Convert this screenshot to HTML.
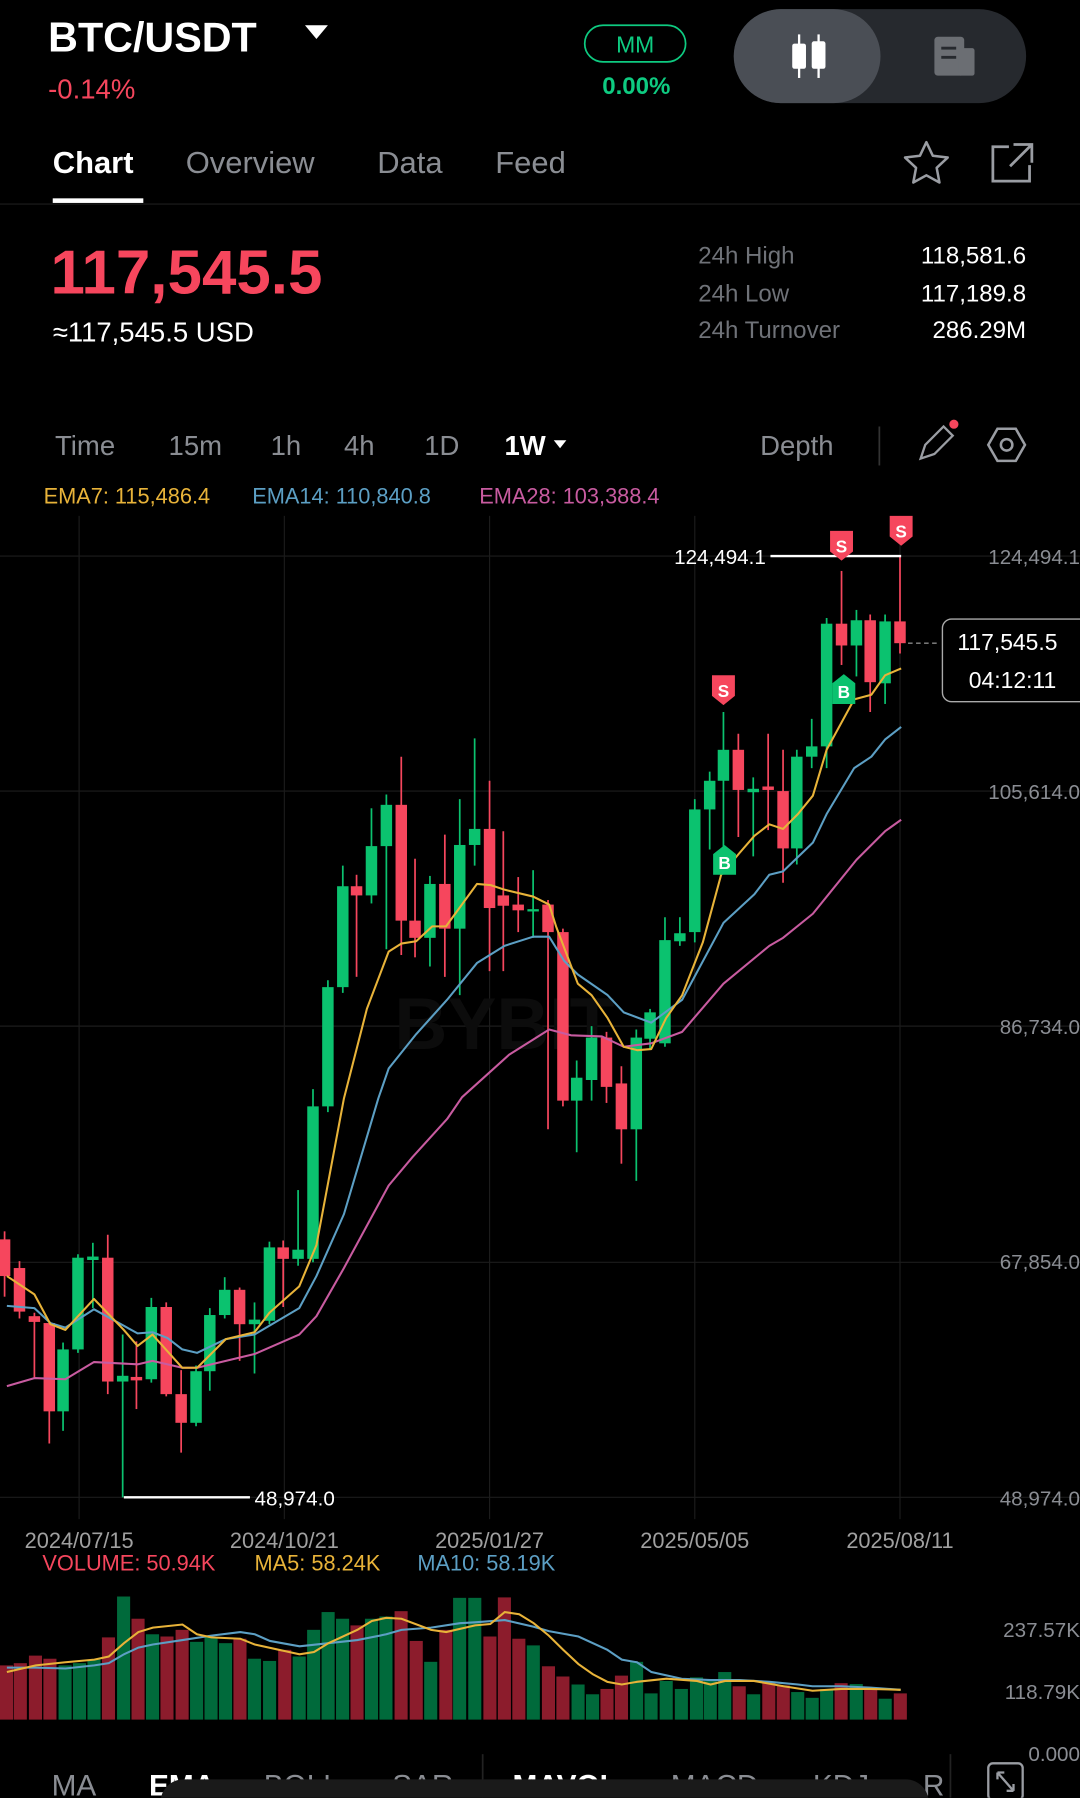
<!DOCTYPE html>
<html><head><meta charset="utf-8"><style>
html,body{margin:0;padding:0;background:#000;overflow:hidden;}
#w{width:942px;height:1568px;transform:scale(1.146497);transform-origin:0 0;position:relative;}
svg{display:block}
text{font-family:"Liberation Sans",sans-serif;}
</style></head><body><div id="w">
<svg width="942" height="1568" viewBox="0 0 942 1568" xmlns="http://www.w3.org/2000/svg">
<rect width="942" height="1568" fill="#000"/>
<!-- header -->
<text x="42" y="45" font-size="36" font-weight="bold" fill="#fff">BTC/USDT</text>
<path d="M266 22 h20 l-10 12z" fill="#fff"/>
<text x="42" y="86" font-size="24" fill="#f6465d">-0.14%</text>
<rect x="510" y="22" width="88" height="32" rx="16" fill="none" stroke="#0ecb81" stroke-width="1.5"/>
<text x="554" y="46" font-size="20" fill="#0ecb81" text-anchor="middle">MM</text>
<text x="555" y="82" font-size="21" font-weight="bold" fill="#0ecb81" text-anchor="middle">0.00%</text>
<rect x="640" y="8" width="255" height="82" rx="41" fill="#26292e"/>
<rect x="640" y="8" width="128" height="82" rx="41" fill="#4a4e55"/>
<g fill="#fff" stroke="#fff" stroke-width="2"><line x1="697" y1="30" x2="697" y2="68"/><line x1="714" y1="30" x2="714" y2="68"/></g>
<rect x="691" y="38" width="12" height="22" rx="2" fill="#fff"/><rect x="708" y="36" width="12" height="24" rx="2" fill="#fff"/>
<rect x="815" y="32" width="26" height="34" rx="3" fill="#6b6e73"/><rect x="836" y="42" width="14" height="24" rx="2" fill="#6b6e73"/>
<g stroke="#26292e" stroke-width="2.5"><line x1="821" y1="42" x2="834" y2="42"/><line x1="821" y1="50" x2="834" y2="50"/></g>
<!-- tabs -->
<text x="46" y="151" font-size="27" font-weight="bold" fill="#fff">Chart</text>
<rect x="46" y="173" width="79" height="4" fill="#fff"/>
<text x="162" y="151" font-size="27" fill="#8a8d93">Overview</text>
<text x="329" y="151" font-size="27" fill="#8a8d93">Data</text>
<text x="432" y="151" font-size="27" fill="#8a8d93">Feed</text>
<path d="M808 124 l5.6 11.8 13 1.6 -9.6 9 2.4 12.8 -11.4 -6.3 -11.4 6.3 2.4 -12.8 -9.6 -9 13 -1.6z" fill="none" stroke="#9a9da3" stroke-width="2.2" stroke-linejoin="round"/>
<path d="M880 128 h-14 v30 h32 v-14 M884 126 h16 v16 M899 127 l-18 18" fill="none" stroke="#9a9da3" stroke-width="2.4"/>
<line x1="0" y1="178" x2="942" y2="178" stroke="#1e1e1e" stroke-width="1"/>
<!-- price -->
<text x="44" y="256" font-size="54" font-weight="bold" fill="#f6465d">117,545.5</text>
<text x="46" y="298" font-size="24" fill="#fff">≈117,545.5 USD</text>
<g font-size="21" fill="#6f7278"><text x="609" y="230">24h High</text><text x="609" y="263">24h Low</text><text x="609" y="295">24h Turnover</text></g>
<g font-size="21" fill="#fff" text-anchor="end"><text x="895" y="230">118,581.6</text><text x="895" y="263">117,189.8</text><text x="895" y="295">286.29M</text></g>
<!-- intervals -->
<g font-size="24" fill="#8a8d93"><text x="48" y="397">Time</text><text x="147" y="397">15m</text><text x="236" y="397">1h</text><text x="300" y="397">4h</text><text x="370" y="397">1D</text><text x="663" y="397">Depth</text></g>
<text x="440" y="397" font-size="24" font-weight="bold" fill="#fff">1W</text>
<path d="M483 384 h11 l-5.5 7z" fill="#fff"/>
<line x1="767" y1="372" x2="767" y2="406" stroke="#333" stroke-width="1.5"/>
<path d="M803 400 l4 -12 16 -16 8 8 -16 16z" fill="none" stroke="#9a9da3" stroke-width="2"/>
<circle cx="832" cy="370" r="4" fill="#f6465d"/>
<path d="M870 374 h16 l8 14 -8 14 h-16 l-8 -14z" fill="none" stroke="#9a9da3" stroke-width="2.2"/>
<circle cx="878" cy="388" r="5" fill="none" stroke="#9a9da3" stroke-width="2.2"/>
<!-- ema legend -->
<g font-size="19"><text x="38" y="439" fill="#e8b339">EMA7: 115,486.4</text><text x="220" y="439" fill="#5c9fc4">EMA14: 110,840.8</text><text x="418" y="439" fill="#c85ba0">EMA28: 103,388.4</text></g>
<!-- grid -->
<g stroke="#1c1c1c" stroke-width="1">
<line x1="0" y1="485" x2="942" y2="485"/><line x1="0" y1="690" x2="942" y2="690"/><line x1="0" y1="895" x2="942" y2="895"/><line x1="0" y1="1101" x2="942" y2="1101"/><line x1="0" y1="1306" x2="942" y2="1306"/>
<line x1="69" y1="450" x2="69" y2="1325"/><line x1="248" y1="450" x2="248" y2="1325"/><line x1="427" y1="450" x2="427" y2="1325"/><line x1="606" y1="450" x2="606" y2="1325"/><line x1="785" y1="450" x2="785" y2="1325"/>
</g>
<text x="440" y="915" font-size="64" font-weight="bold" fill="#0c0c0c" text-anchor="middle">BYBIT</text>
<g font-size="18" fill="#8a8d93" text-anchor="end"><text x="942" y="492">124,494.1</text><text x="942" y="697">105,614.0</text><text x="942" y="902">86,734.0</text><text x="942" y="1107">67,854.0</text><text x="942" y="1313">48,974.0</text></g>
<g font-size="19" fill="#a0a0a0" text-anchor="middle"><text x="69" y="1350">2024/07/15</text><text x="248" y="1350">2024/10/21</text><text x="427" y="1350">2025/01/27</text><text x="606" y="1350">2025/05/05</text><text x="785" y="1350">2025/08/11</text></g>
<!-- candles -->
<g stroke="#f6465d" stroke-width="1.5">
<line x1="4" y1="1074" x2="4" y2="1131"/><line x1="17" y1="1100" x2="17" y2="1150"/><line x1="30" y1="1145" x2="30" y2="1202"/><line x1="43" y1="1154" x2="43" y2="1259"/><line x1="94" y1="1077" x2="94" y2="1216"/><line x1="119" y1="1170" x2="119" y2="1229"/><line x1="145" y1="1136" x2="145" y2="1218"/><line x1="158" y1="1195" x2="158" y2="1267"/><line x1="209" y1="1123" x2="209" y2="1187"/><line x1="247" y1="1082" x2="247" y2="1140"/><line x1="311" y1="763" x2="311" y2="852"/><line x1="350" y1="660" x2="350" y2="833"/><line x1="362" y1="749" x2="362" y2="835"/><line x1="388" y1="728" x2="388" y2="852"/><line x1="427" y1="681" x2="427" y2="847"/><line x1="439" y1="725" x2="439" y2="847"/><line x1="452" y1="765" x2="452" y2="813"/><line x1="478" y1="785" x2="478" y2="985"/><line x1="491" y1="810" x2="491" y2="965"/><line x1="529" y1="900" x2="529" y2="962"/><line x1="542" y1="930" x2="542" y2="1015"/><line x1="644" y1="640" x2="644" y2="730"/><line x1="670" y1="640" x2="670" y2="724"/><line x1="683" y1="654" x2="683" y2="770"/><line x1="734" y1="498" x2="734" y2="580"/><line x1="759" y1="536" x2="759" y2="621"/><line x1="785" y1="485" x2="785" y2="570"/>
</g>
<g fill="#f6465d">
<rect x="-1" y="1081" width="10" height="32"/><rect x="12" y="1106" width="10" height="38"/><rect x="25" y="1148" width="10" height="5"/><rect x="38" y="1154" width="10" height="77"/><rect x="89" y="1097" width="10" height="108"/><rect x="114" y="1201" width="10" height="3"/><rect x="140" y="1140" width="10" height="76"/><rect x="153" y="1216" width="10" height="25"/><rect x="204" y="1125" width="10" height="30"/><rect x="242" y="1088" width="10" height="10"/><rect x="306" y="773" width="10" height="8"/><rect x="345" y="702" width="10" height="101"/><rect x="357" y="803" width="10" height="15"/><rect x="383" y="771" width="10" height="39"/><rect x="422" y="723" width="10" height="69"/><rect x="434" y="781" width="10" height="9"/><rect x="447" y="789" width="10" height="5"/><rect x="473" y="789" width="10" height="24"/><rect x="486" y="813" width="10" height="147"/><rect x="524" y="905" width="10" height="43"/><rect x="537" y="945" width="10" height="40"/><rect x="639" y="654" width="10" height="35"/><rect x="665" y="686" width="10" height="3"/><rect x="678" y="690" width="10" height="50"/><rect x="729" y="544" width="10" height="19"/><rect x="754" y="541" width="10" height="54"/><rect x="780" y="542" width="10" height="19"/>
</g>
<g stroke="#0bc26f" stroke-width="1.5">
<line x1="55" y1="1171" x2="55" y2="1248"/><line x1="68" y1="1094" x2="68" y2="1180"/><line x1="81" y1="1084" x2="81" y2="1141"/><line x1="107" y1="1164" x2="107" y2="1306"/><line x1="132" y1="1132" x2="132" y2="1206"/><line x1="171" y1="1191" x2="171" y2="1244"/><line x1="183" y1="1141" x2="183" y2="1213"/><line x1="196" y1="1114" x2="196" y2="1150"/><line x1="222" y1="1136" x2="222" y2="1198"/><line x1="235" y1="1083" x2="235" y2="1155"/><line x1="260" y1="1038" x2="260" y2="1104"/><line x1="273" y1="950" x2="273" y2="1101"/><line x1="286" y1="855" x2="286" y2="970"/><line x1="299" y1="755" x2="299" y2="866"/><line x1="324" y1="705" x2="324" y2="788"/><line x1="337" y1="693" x2="337" y2="828"/><line x1="375" y1="764" x2="375" y2="843"/><line x1="401" y1="697" x2="401" y2="868"/><line x1="414" y1="644" x2="414" y2="755"/><line x1="465" y1="759" x2="465" y2="818"/><line x1="503" y1="925" x2="503" y2="1005"/><line x1="516" y1="895" x2="516" y2="960"/><line x1="555" y1="898" x2="555" y2="1030"/><line x1="567" y1="880" x2="567" y2="915"/><line x1="580" y1="800" x2="580" y2="913"/><line x1="593" y1="800" x2="593" y2="825"/><line x1="606" y1="697" x2="606" y2="822"/><line x1="619" y1="673" x2="619" y2="741"/><line x1="631" y1="621" x2="631" y2="741"/><line x1="657" y1="678" x2="657" y2="747"/><line x1="695" y1="654" x2="695" y2="754"/><line x1="708" y1="627" x2="708" y2="670"/><line x1="721" y1="539" x2="721" y2="670"/><line x1="747" y1="532" x2="747" y2="590"/><line x1="772" y1="536" x2="772" y2="614"/>
</g>
<g fill="#0bc26f">
<rect x="50" y="1177" width="10" height="54"/><rect x="63" y="1097" width="10" height="80"/><rect x="76" y="1096" width="10" height="3"/><rect x="102" y="1200" width="10" height="5"/><rect x="127" y="1140" width="10" height="63"/><rect x="166" y="1196" width="10" height="45"/><rect x="178" y="1147" width="10" height="49"/><rect x="191" y="1125" width="10" height="22"/><rect x="217" y="1151" width="10" height="4"/><rect x="230" y="1088" width="10" height="64"/><rect x="255" y="1090" width="10" height="8"/><rect x="268" y="965" width="10" height="133"/><rect x="281" y="861" width="10" height="104"/><rect x="294" y="773" width="10" height="88"/><rect x="319" y="738" width="10" height="43"/><rect x="332" y="702" width="10" height="36"/><rect x="370" y="771" width="10" height="47"/><rect x="396" y="737" width="10" height="73"/><rect x="409" y="723" width="10" height="14"/><rect x="460" y="793" width="10" height="2"/><rect x="498" y="940" width="10" height="20"/><rect x="511" y="905" width="10" height="37"/><rect x="550" y="905" width="10" height="80"/><rect x="562" y="883" width="10" height="23"/><rect x="575" y="820" width="10" height="90"/><rect x="588" y="814" width="10" height="7"/><rect x="601" y="706" width="10" height="107"/><rect x="614" y="681" width="10" height="25"/><rect x="626" y="654" width="10" height="27"/><rect x="652" y="688" width="10" height="3"/><rect x="690" y="660" width="10" height="80"/><rect x="703" y="651" width="10" height="9"/><rect x="716" y="544" width="10" height="107"/><rect x="742" y="541" width="10" height="22"/><rect x="767" y="542" width="10" height="54"/>
</g>
<!-- EMA lines -->
<g fill="none" stroke-width="1.8" stroke-linejoin="round">
<polyline stroke="#c85ba0" points="6,1209 30,1202 57,1203 82,1188 120,1190 133,1187 159,1193 172,1193 197,1187 222,1181 261,1164 276,1148 300,1106 339,1034 360,1009 390,976 403,957 444,920 479,898 498,903 525,904 544,913 568,910 595,900 631,858 671,825 683,818 709,797 747,750 772,725 786,715"/>
<polyline stroke="#5c9fc4" points="6,1139 30,1141 44,1154 57,1158 82,1142 120,1163 133,1162 146,1167 159,1177 172,1180 197,1168 222,1164 261,1141 276,1113 300,1059 330,958 339,932 363,902 390,872 416,840 440,825 465,817 479,817 492,838 504,850 530,868 544,883 568,892 595,872 631,805 658,780 671,763 683,760 709,735 721,710 745,670 760,660 772,645 786,634"/>
<polyline stroke="#e8b339" points="6,1113 30,1129 44,1155 57,1160 82,1133 108,1160 120,1174 133,1164 159,1193 172,1193 197,1168 222,1162 235,1145 261,1122 276,1086 300,958 320,880 339,830 350,823 363,821 377,808 389,808 416,771 428,772 440,776 465,782 479,789 485,808 504,858 516,868 530,888 544,913 556,916 568,915 581,888 595,868 613,822 629,763 645,744 658,729 671,719 683,723 696,710 709,694 721,654 745,610 760,606 772,589 786,583"/>
</g>
<!-- markers -->
<line x1="672" y1="485" x2="786" y2="485" stroke="#fff" stroke-width="2"/>
<text x="668" y="492" font-size="18" fill="#fff" text-anchor="end">124,494.1</text>
<line x1="108" y1="1306" x2="218" y2="1306" stroke="#fff" stroke-width="2"/>
<text x="222" y="1313" font-size="18" fill="#fff">48,974.0</text>
<line x1="792" y1="561" x2="820" y2="561" stroke="#888" stroke-width="1.2" stroke-dasharray="4,3"/>
<rect x="822" y="540" width="130" height="72" rx="8" fill="#000" stroke="#aaa" stroke-width="1.2"/>
<text x="835" y="567" font-size="20" fill="#fff">117,545.5</text>
<text x="845" y="600" font-size="20" fill="#fff">04:12:11</text>
<g font-size="15" font-weight="bold" fill="#fff" text-anchor="middle">
<path d="M724 463 h20 v18 l-10 8 -10 -8z" fill="#f6465d"/><text x="734" y="482">S</text>
<path d="M776 450 h20 v18 l-10 8 -10 -8z" fill="#f6465d"/><text x="786" y="469">S</text>
<path d="M621 589 h20 v18 l-10 8 -10 -8z" fill="#f6465d"/><text x="631" y="608">S</text>
<path d="M726 596 l10 -8 10 8 v18 h-20z" fill="#0bc26f"/><text x="736" y="609">B</text>
<path d="M622 745 l10 -8 10 8 v18 h-20z" fill="#0bc26f"/><text x="632" y="758">B</text>
</g>
<!-- volume -->
<g font-size="19"><text x="37" y="1370" fill="#f6465d">VOLUME: 50.94K</text><text x="222" y="1370" fill="#e8b339">MA5: 58.24K</text><text x="364" y="1370" fill="#5c9fc4">MA10: 58.19K</text></g>
<g font-size="18" fill="#8a8d93" text-anchor="end"><text x="942" y="1428">237.57K</text><text x="942" y="1482">118.79K</text><text x="942" y="1536">0.000</text></g>
<g transform="translate(0,958.4) scale(0.6006,0.3876)">
<g fill="#8c1c2c">
<rect x="0" y="1275" width="19" height="122"/><rect x="20" y="1270" width="19" height="127"/><rect x="42" y="1253" width="19" height="144"/><rect x="63" y="1260" width="19" height="137"/><rect x="148" y="1212" width="19" height="185"/><rect x="191" y="1170" width="19" height="227"/><rect x="233" y="1210" width="19" height="187"/><rect x="255" y="1195" width="19" height="202"/><rect x="339" y="1215" width="19" height="182"/><rect x="404" y="1240" width="19" height="157"/><rect x="509" y="1185" width="19" height="212"/><rect x="573" y="1153" width="19" height="244"/><rect x="595" y="1220" width="19" height="177"/><rect x="638" y="1195" width="19" height="202"/><rect x="702" y="1210" width="19" height="187"/><rect x="723" y="1122" width="19" height="275"/><rect x="744" y="1215" width="19" height="182"/><rect x="787" y="1277" width="19" height="120"/><rect x="808" y="1300" width="19" height="97"/><rect x="872" y="1328" width="19" height="69"/><rect x="893" y="1298" width="19" height="99"/><rect x="1064" y="1322" width="19" height="75"/><rect x="1107" y="1312" width="19" height="85"/><rect x="1128" y="1320" width="19" height="77"/><rect x="1212" y="1315" width="19" height="82"/><rect x="1255" y="1328" width="19" height="69"/><rect x="1298" y="1338" width="19" height="59"/>
</g>
<g fill="#006a3b">
<rect x="85" y="1275" width="19" height="122"/><rect x="106" y="1270" width="19" height="127"/><rect x="127" y="1262" width="19" height="135"/><rect x="170" y="1120" width="19" height="277"/><rect x="212" y="1205" width="19" height="192"/><rect x="276" y="1222" width="19" height="175"/><rect x="297" y="1212" width="19" height="185"/><rect x="318" y="1225" width="19" height="172"/><rect x="360" y="1260" width="19" height="137"/><rect x="382" y="1265" width="19" height="132"/><rect x="425" y="1255" width="19" height="142"/><rect x="446" y="1195" width="19" height="202"/><rect x="467" y="1155" width="19" height="242"/><rect x="488" y="1170" width="19" height="227"/><rect x="530" y="1170" width="19" height="227"/><rect x="551" y="1165" width="19" height="232"/><rect x="616" y="1267" width="19" height="130"/><rect x="658" y="1123" width="19" height="274"/><rect x="680" y="1123" width="19" height="274"/><rect x="765" y="1230" width="19" height="167"/><rect x="830" y="1318" width="19" height="79"/><rect x="851" y="1340" width="19" height="57"/><rect x="915" y="1267" width="19" height="130"/><rect x="936" y="1338" width="19" height="59"/><rect x="958" y="1310" width="19" height="87"/><rect x="980" y="1328" width="19" height="69"/><rect x="1002" y="1302" width="19" height="95"/><rect x="1022" y="1310" width="19" height="87"/><rect x="1043" y="1290" width="19" height="107"/><rect x="1085" y="1340" width="19" height="57"/><rect x="1149" y="1335" width="19" height="62"/><rect x="1170" y="1348" width="19" height="49"/><rect x="1191" y="1328" width="19" height="69"/><rect x="1234" y="1317" width="19" height="80"/><rect x="1276" y="1350" width="19" height="47"/>
</g>
<g fill="none" stroke-width="1.8" vector-effect="non-scaling-stroke">
<polyline vector-effect="non-scaling-stroke" stroke="#5c9fc4" points="10,1280 52,1280 95,1282 137,1275 158,1270 180,1250 201,1235 222,1228 265,1218 307,1208 349,1200 370,1205 392,1220 435,1232 477,1225 519,1218 561,1205 583,1195 626,1190 668,1180 690,1178 733,1173 775,1188 797,1198 840,1210 882,1240 903,1262 925,1268 946,1290 990,1305 1032,1308 1074,1308 1117,1312 1159,1318 1180,1322 1222,1322 1265,1325 1308,1330"/>
<polyline vector-effect="non-scaling-stroke" stroke="#e8b339" points="10,1290 52,1275 95,1268 137,1262 158,1255 180,1225 201,1200 222,1190 265,1183 286,1205 307,1212 349,1215 370,1228 414,1243 435,1250 456,1245 477,1225 519,1195 540,1175 561,1168 583,1170 626,1195 648,1200 690,1185 712,1182 733,1155 754,1160 775,1180 797,1208 818,1240 840,1272 861,1295 882,1312 903,1318 925,1312 968,1305 1012,1310 1032,1318 1053,1310 1095,1310 1138,1322 1180,1332 1222,1328 1265,1328 1308,1330"/>
</g>
</g>
<!-- bottom tabs -->
<g font-size="26" fill="#8a8d93"><text x="45" y="1566">MA</text><text x="230" y="1566">BOLL</text><text x="342" y="1566">SAR</text><text x="585" y="1566">MACD</text><text x="709" y="1566">KDJ</text><text x="805" y="1566">R</text></g>
<g font-size="26" font-weight="bold" fill="#fff"><text x="130" y="1566">EMA</text><text x="447" y="1566">MAVOL</text></g>
<line x1="421" y1="1530" x2="421" y2="1568" stroke="#222" stroke-width="1.5"/>
<line x1="829" y1="1530" x2="829" y2="1568" stroke="#222" stroke-width="1.5"/>
<rect x="862" y="1538" width="30" height="32" rx="4" fill="none" stroke="#9a9da3" stroke-width="2"/>
<path d="M870 1546 l14 16 M870 1546 h6 M870 1546 v6 M884 1562 h-6 M884 1562 v-6" stroke="#9a9da3" stroke-width="2" fill="none"/>
<rect x="140" y="1552" width="670" height="40" rx="20" fill="#1a1a1a"/>
</svg>
</div></body></html>
